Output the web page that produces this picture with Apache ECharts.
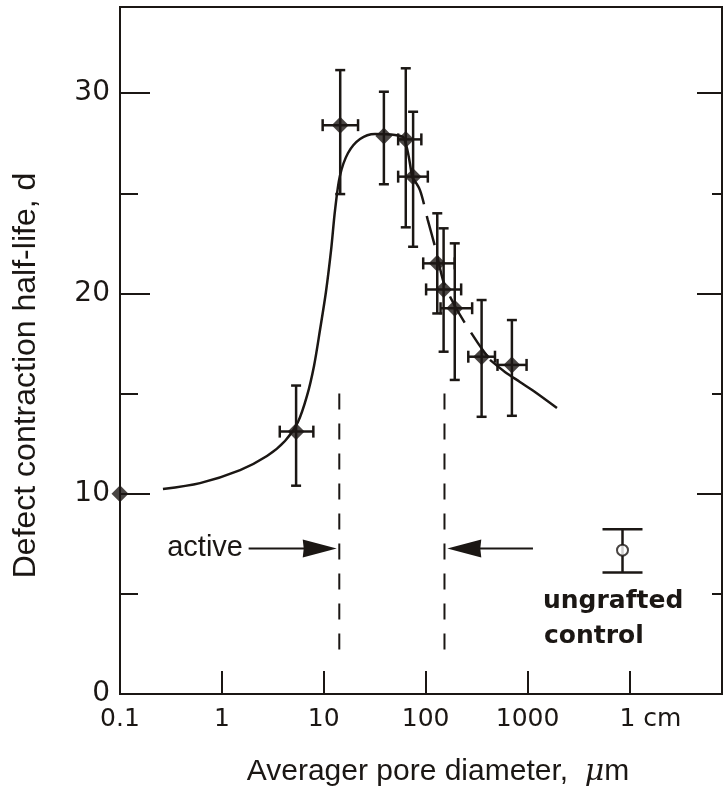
<!DOCTYPE html>
<html>
<head>
<meta charset="utf-8">
<script src="https://cdn.jsdelivr.net/npm/echarts@6/dist/echarts.min.js"></script>
<style>
html, body { margin: 0; padding: 0; background: #fff; }
#chart { width: 724px; height: 788px; }
</style>
</head>
<body>
<div id="chart"></div>
<script>
// 测量点：孔径 (µm)，半衰期 (d)，误差棒
let pore_x    = [0.1, 5.35, 14.5, 38.9, 63.8, 75.3, 130, 150, 193, 354, 702];
let half_life = [10, 13.1, 28.4, 27.86, 27.69, 25.83, 21.5, 20.2, 19.26, 16.84, 16.43];
let y_low     = [null, 10.4, 24.96, 25.45, 23.3, 22.33, 19.0, 17.09, 15.68, 13.84, 13.89];
let y_high    = [null, 15.4, 31.15, 30.07, 31.24, 29.07, 24.0, 23.25, 22.5, 19.67, 18.67];
let x_low     = [null, 3.7, 9.75, null, 53.7, 53.7, 94.6, 101, 140, 262, 507];
let x_high    = [null, 7.9, 21.7, null, 90.7, 105, 193, 223, 286, 479, 978];

// ungrafted control
let control_x = [8550];
let control_y = [7.18];
let control_low = [6.07];
let control_high = [8.23];

// 拟合曲线（三段：实线上升、虚线下降、实线尾部）
let rise_x = [0.264, 0.61, 1.51, 2.77, 4.16, 5.58, 6.84, 8.02, 9.18, 10.5, 11.8, 12.9, 14.4, 17.3, 22.7, 31.8, 50, 61.2, 73.4];
let rise_y = [10.23, 10.53, 11.18, 11.88, 12.63, 13.58, 14.88, 16.38, 18.17, 20.07, 22.17, 24.16, 25.86, 27.01, 27.71, 27.96, 27.91, 27.76, 25.81];
let fall_x = [73.4, 87.9, 105, 126, 151, 194, 243, 326, 428];
let fall_y = [25.81, 25.16, 23.66, 22.17, 20.52, 19.37, 18.52, 17.52, 16.68];
let tail_x = [428, 600, 842, 1183, 1944];
let tail_y = [16.68, 16.08, 15.58, 15.08, 14.28];

// active range guides and arrows
let guide_x = [14.2, 153];
let guide_top = 15.0;
let guide_bottom = 1.8;
let arrow_from = [1.83, 1130];
let arrow_to = [13.4, 163];
let arrow_y = [7.27, 7.27];

let x_ticks_label = { 0.1: '0.1', 1: '1', 10: '10', 100: '100', 1000: '1000', 10000: '1 cm' };

let ink = '#1b1714';
let Chart_main = echarts.init(document.getElementById('chart'));

function zip(a, b) {
    let out = [];
    for (let i = 0; i < a.length; i++) out.push([a[i], b[i]]);
    return out;
}

let point_data = zip(pore_x, half_life);
let bar_data = [];
for (let i = 0; i < pore_x.length; i++) {
    bar_data.push([pore_x[i], half_life[i], y_low[i], y_high[i], x_low[i], x_high[i]]);
}
let control_bar = [[control_x[0], control_y[0], control_low[0], control_high[0], null, null]];

function errorBar(capV, capH) {
    return function (params, api) {
        let c = api.coord([api.value(0), api.value(1)]);
        let st = { stroke: ink, lineWidth: 2.5 };
        let kids = [];
        let lo = api.value(2), hi = api.value(3);
        if (!isNaN(lo) && !isNaN(hi)) {
            let p1 = api.coord([api.value(0), lo]);
            let p2 = api.coord([api.value(0), hi]);
            kids.push({ type: 'line', shape: { x1: c[0], y1: p1[1], x2: c[0], y2: p2[1] }, style: st });
            kids.push({ type: 'line', shape: { x1: c[0] - capV / 2, y1: p1[1], x2: c[0] + capV / 2, y2: p1[1] }, style: st });
            kids.push({ type: 'line', shape: { x1: c[0] - capV / 2, y1: p2[1], x2: c[0] + capV / 2, y2: p2[1] }, style: st });
        }
        let xl = api.value(4), xh = api.value(5);
        if (!isNaN(xl) && !isNaN(xh)) {
            let q1 = api.coord([xl, api.value(1)]);
            let q2 = api.coord([xh, api.value(1)]);
            kids.push({ type: 'line', shape: { x1: q1[0], y1: c[1], x2: q2[0], y2: c[1] }, style: st });
            kids.push({ type: 'line', shape: { x1: q1[0], y1: c[1] - capH / 2, x2: q1[0], y2: c[1] + capH / 2 }, style: st });
            kids.push({ type: 'line', shape: { x1: q2[0], y1: c[1] - capH / 2, x2: q2[0], y2: c[1] + capH / 2 }, style: st });
        }
        return { type: 'group', children: kids };
    };
}

let arrow_data = [];
for (let i = 0; i < arrow_from.length; i++) arrow_data.push([arrow_from[i], arrow_y[i], arrow_to[i]]);
let guide_data = guide_x.map(function (v) { return [v, guide_top, guide_bottom]; });

let option_main = {
    backgroundColor: '#fff',
    animation: false,
    grid: {
        left: 120, right: 2, top: 7, bottom: 94,
        outerBoundsMode: 'none',
        show: true, borderColor: ink, borderWidth: 2
    },
    xAxis: {
        type: 'log',
        logBase: 10,
        min: 0.1,
        max: 81000,
        name: 'Averager pore diameter,  {mu|μ}m',
        nameLocation: 'middle',
        nameGap: 63,
        nameTextStyle: {
            color: ink,
            fontSize: 30,
            fontFamily: 'Liberation Sans',
            padding: [0, 0, 0, 34],
            rich: {
                mu: { fontSize: 30, fontFamily: 'DejaVu Serif', fontStyle: 'italic', color: ink }
            }
        },
        axisLine: { lineStyle: { color: ink, width: 2 } },
        axisTick: { inside: true, length: 23, lineStyle: { color: ink, width: 2 } },
        splitLine: { show: false },
        axisLabel: {
            color: ink,
            fontSize: 25,
            fontFamily: 'DejaVu Sans',
            margin: 13,
            formatter: function (v) {
                let k = Math.round(Math.log10(v));
                if (Math.abs(Math.log10(v) - k) > 0.01) return '';
                let t = x_ticks_label[Math.pow(10, k)];
                if (t == null) return '';
                if (k == 4) return '{cm|' + t + '}';
                return t;
            },
            rich: {
                cm: { fontSize: 25, fontFamily: 'DejaVu Sans', color: ink, padding: [0, 0, 0, 42] }
            }
        }
    },
    yAxis: [
        {
            type: 'value', position: 'left', min: 0, max: 34.3, interval: 10,
            name: 'Defect contraction half-life, d',
            nameLocation: 'middle',
            nameGap: 78,
            nameTextStyle: { color: ink, fontSize: 32, fontFamily: 'Liberation Sans', padding: [0, 50, 0, 0] },
            axisLine: { show: true, lineStyle: { color: ink, width: 2 } },
            axisTick: { inside: true, length: 30, lineStyle: { color: ink, width: 2 } },
            splitLine: { show: false },
            axisLabel: {
                color: ink, fontSize: 28, fontFamily: 'DejaVu Sans', margin: 10,
                formatter: function (v) { return (v % 10 == 0) ? String(v) : ''; }
            }
        },
        {
            type: 'value', position: 'left', min: 0, max: 34.3, interval: 5,
            axisLine: { show: false },
            axisTick: { inside: true, length: 18, lineStyle: { color: ink, width: 2 } },
            splitLine: { show: false },
            axisLabel: { show: false }
        },
        {
            type: 'value', position: 'right', min: 0, max: 34.3, interval: 10,
            axisLine: { show: true, lineStyle: { color: ink, width: 2 } },
            axisTick: { inside: true, length: 25, lineStyle: { color: ink, width: 2 } },
            splitLine: { show: false },
            axisLabel: { show: false }
        },
        {
            type: 'value', position: 'right', min: 0, max: 34.3, interval: 5,
            axisLine: { show: false },
            axisTick: { inside: true, length: 10, lineStyle: { color: ink, width: 2 } },
            splitLine: { show: false },
            axisLabel: { show: false }
        }
    ],
    series: [
        {
            name: 'fit rise', type: 'line', data: zip(rise_x, rise_y),
            smooth: 0.3, showSymbol: false, symbol: 'none',
            lineStyle: { color: ink, width: 2.5 }, z: 2
        },
        {
            name: 'fit fall', type: 'line', data: zip(fall_x, fall_y),
            smooth: 0.3, showSymbol: false, symbol: 'none',
            lineStyle: { color: ink, width: 2.5, type: [30, 12] }, z: 2
        },
        {
            name: 'fit tail', type: 'line', data: zip(tail_x, tail_y),
            smooth: 0.3, showSymbol: false, symbol: 'none',
            lineStyle: { color: ink, width: 2.5 }, z: 2
        },
        {
            name: 'error bars', type: 'custom', data: bar_data,
            renderItem: errorBar(10, 12), z: 3
        },
        {
            name: 'control bar', type: 'custom', data: control_bar,
            renderItem: errorBar(40, 0), z: 3
        },
        {
            name: 'guides', type: 'custom', data: guide_data,
            renderItem: function (params, api) {
                let a = api.coord([api.value(0), api.value(1)]);
                let b = api.coord([api.value(0), api.value(2)]);
                return {
                    type: 'line',
                    shape: { x1: a[0], y1: a[1], x2: b[0], y2: b[1] },
                    style: { stroke: ink, lineWidth: 2, lineDash: [16, 14] }
                };
            },
            z: 2
        },
        {
            name: 'arrows', type: 'custom', data: arrow_data,
            renderItem: function (params, api) {
                let a = api.coord([api.value(0), api.value(1)]);
                let t = api.coord([api.value(2), api.value(1)]);
                let dir = t[0] > a[0] ? 1 : -1;
                let headLen = 34, headHalf = 9;
                return {
                    type: 'group',
                    children: [
                        {
                            type: 'line',
                            shape: { x1: a[0], y1: a[1], x2: t[0] - dir * 20, y2: t[1] },
                            style: { stroke: ink, lineWidth: 2 }
                        },
                        {
                            type: 'polygon',
                            shape: { points: [[t[0], t[1]], [t[0] - dir * headLen, t[1] - headHalf], [t[0] - dir * (headLen - 1), t[1]], [t[0] - dir * headLen, t[1] + headHalf]] },
                            style: { fill: ink }
                        }
                    ]
                };
            },
            z: 3
        },
        {
            name: 'points', type: 'scatter', data: point_data,
            symbol: 'diamond', symbolSize: 17,
            itemStyle: { color: ink }, z: 5
        },
        {
            name: 'ungrafted control', type: 'scatter', data: zip(control_x, control_y),
            symbol: 'circle', symbolSize: 11,
            itemStyle: { color: '#fff', borderColor: ink, borderWidth: 2 }, z: 5
        }
    ],
    graphic: [
        {
            type: 'text', x: 243, y: 548,
            style: { text: 'active', align: 'right', verticalAlign: 'middle', fontSize: 29, fontFamily: 'Liberation Sans', fill: ink }
        },
        {
            type: 'text', x: 543, y: 601,
            style: { text: 'ungrafted', align: 'left', verticalAlign: 'middle', fontSize: 25, fontWeight: 'bold', fontFamily: 'DejaVu Sans', fill: ink }
        },
        {
            type: 'text', x: 544, y: 636,
            style: { text: 'control', align: 'left', verticalAlign: 'middle', fontSize: 25, fontWeight: 'bold', fontFamily: 'DejaVu Sans', fill: ink }
        }
    ]
};

Chart_main.setOption(option_main);
</script>
</body>
</html>
